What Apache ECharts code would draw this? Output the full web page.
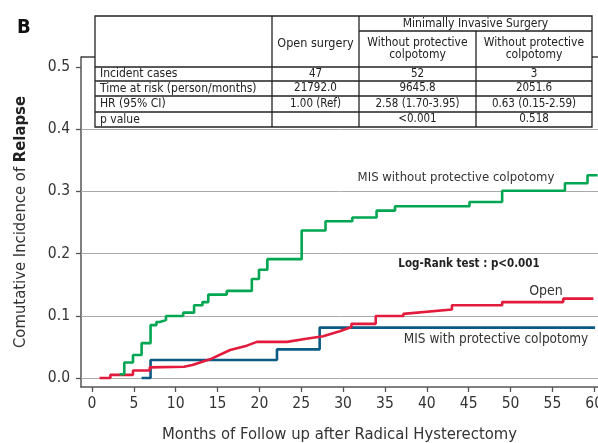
<!DOCTYPE html>
<html><head><meta charset="utf-8">
<script src="https://cdn.jsdelivr.net/npm/echarts@6/dist/echarts.min.js"></script>
<style>html,body{margin:0;padding:0;background:#fff}#c{width:598px;height:443px}</style>
</head><body><div id="c"></div>
<script>
const FONT = "'DejaVu Sans Condensed',Roboto,sans-serif";
const xTicks = [0,5,10,15,20,25,30,35,40,45,50,55,60];
const yTicks = [0,0.1,0.2,0.3,0.4,0.5];
const gridValues = [0,0.1,0.2,0.3,0.4];
// step points: [month, cumulative incidence]
const misWithout = [[3.3,0.006],[3.86,0.025],[4.9,0.037],[5.93,0.056],[7.0,0.085],[7.7,0.090],[8.1,0.093],[8.84,0.0997],[10.9,0.105],[12.2,0.117],[13.2,0.122],[13.9,0.134],[16.1,0.140],[19.1,0.159],[19.95,0.174],[20.95,0.191],[25.05,0.237],[27.9,0.252],[31.1,0.258],[34.0,0.269],[36.2,0.276],[45.1,0.283],[49.0,0.301],[56.5,0.313],[59.2,0.326],[60.4,0.326]];
const misWith = [[5.93,0],[7.0,0.029],[22.1,0.046],[27.2,0.081],[60.1,0.081]];
const openSurgery = [[0.9,0],[2.2,0],[2.2,0.005],[4.9,0.005],[4.9,0.012],[6.9,0.012],[6.9,0.017],[11.0,0.018],[12.0,0.021],[14.1,0.030],[16.5,0.045],[18.5,0.052],[19.7,0.058],[23.3,0.058],[25.6,0.063],[27.6,0.067],[29.6,0.075],[31.0,0.082],[31.0,0.087],[33.9,0.087],[33.9,0.0997],[37.2,0.0997],[37.2,0.103],[43.0,0.110],[43.0,0.117],[49.0,0.117],[49.0,0.122],[56.3,0.122],[56.3,0.1275],[59.9,0.1275]];
const seriesNames = ['MIS without protective colpotomy','Open','MIS with protective colpotomy'];
const testLabel = 'Log-Rank test : p<0.001';
const panelLabel = 'B';
const tableSpanHeader = 'Minimally Invasive Surgery';
const tableColHeaders = ['Open surgery','Without protective\ncolpotomy','Without protective\ncolpotomy'];
const rowLabels = ['Incident cases','Time at risk (person/months)','HR (95% CI)','p value'];
const openVals = ['47','21792.0','1.00 (Ref)',''];
const misWithoutVals = ['52','9645.8','2.58 (1.70-3.95)','<0.001'];
const misWithVals = ['3','2051.6','0.63 (0.15-2.59)','0.518'];

const chart = echarts.init(document.getElementById('c'), null, {renderer:'canvas'});
const TC = '#222';
const tl = (x1,y1,x2,y2,w) => ({type:'line', z:100, shape:{x1,y1,x2,y2}, style:{stroke:TC, lineWidth:w||1.3}});
const tt = (x,y,text,align,size,extra) => ({type:'text', z:101, x, y, style:Object.assign({text, fill:'#222', font:(size||12)+'px '+FONT, align:align||'center', verticalAlign:'middle', lineHeight:12}, extra||{})});

const g = [];
g.push({type:'rect', z:99, shape:{x:95,y:16,width:497,height:111}, style:{fill:'#fff', stroke:TC, lineWidth:1.3}});
g.push(tl(95,67,592,67,1.6));
[81,96,112].forEach(y=>g.push(tl(95,y,592,y)));
g.push(tl(272,16,272,127));
g.push(tl(359,16,359,127));
g.push(tl(476,31,476,127));
g.push(tl(359,31,592,31));
g.push(tl(81,57,95,57,1.3));
g.push(tl(592,57,598,57,1.3));
g.push(tt(475.5,23.5,tableSpanHeader,'center',12));
g.push(tt(315.5,44,tableColHeaders[0],'center',12.5));
g.push(tt(417.5,49,tableColHeaders[1],'center',12));
g.push(tt(534,49,tableColHeaders[2],'center',12));
const rowC = [74,88.5,104,119.5];
rowLabels.forEach((t,i)=>{
  g.push(tt(100,rowC[i],t,'left',12));
  g.push(tt(315.5,rowC[i],openVals[i],'center',11.5));
  g.push(tt(417.5,rowC[i],misWithoutVals[i],'center',11.5));
  g.push(tt(534,rowC[i],misWithVals[i],'center',11.5));
});
g.push({type:'text', x:17, y:28, style:{text:panelLabel, font:'bold 20px '+FONT, fill:'#111', verticalAlign:'middle'}});
g.push({type:'text', x:456, y:178, style:{text:seriesNames[0], font:'13px '+FONT, fill:'#333', align:'center', verticalAlign:'middle'}});
g.push({type:'text', x:469, y:264, style:{text:testLabel, font:'bold 11.5px '+FONT, fill:'#222', align:'center', verticalAlign:'middle'}});
g.push({type:'text', x:546, y:291, style:{text:seriesNames[1], font:'14px '+FONT, fill:'#333', align:'center', verticalAlign:'middle'}});
g.push({type:'text', x:496, y:339, style:{text:seriesNames[2], font:'13.5px '+FONT, fill:'#333', align:'center', verticalAlign:'middle'}});

const axisCol = '#555';
chart.setOption({
  animation:false,
  backgroundColor:'#fff',
  grid:{left:81, right:0, top:57, bottom:56, outerBoundsMode:'none', containLabel:false},
  xAxis:{type:'value', min:-1.31, max:60.45,
    axisLine:{show:true, onZero:false, lineStyle:{color:axisCol, width:1.5}},
    axisTick:{show:true, length:5, customValues:xTicks, lineStyle:{color:axisCol, width:1.3}},
    axisLabel:{customValues:xTicks, color:'#333', fontSize:15.5, fontFamily:FONT, margin:9},
    splitLine:{show:false},
    name:'Months of Follow up after Radical Hysterectomy', nameLocation:'middle', nameGap:39,
    nameTextStyle:{fontSize:16.5, color:'#333', fontFamily:FONT}},
  yAxis:{type:'value', min:-0.0145, max:0.516,
    axisLine:{show:true, onZero:false, lineStyle:{color:axisCol, width:1.5}},
    axisTick:{show:true, length:5, customValues:yTicks, lineStyle:{color:axisCol, width:1.3}},
    axisLabel:{customValues:yTicks, formatter:v=>v.toFixed(1), color:'#333', fontSize:15.5, fontFamily:FONT, margin:11},
    splitLine:{show:false},
    name:'{a|Comutative Incidence of }{b|Relapse}', nameLocation:'middle', nameGap:52, nameRotate:90,
    nameTextStyle:{rich:{a:{fontSize:16.5, color:'#333', fontFamily:FONT}, b:{fontSize:16.5, fontWeight:'bold', color:'#222', fontFamily:FONT}}}},
  graphic:g,
  series:[
    {type:'line', name:'grid', data:[], silent:true, z:1,
      markLine:{silent:true, z:1, symbol:'none', label:{show:false}, lineStyle:{color:'#aaa', width:1, type:'solid'},
        data:gridValues.map(v=>({yAxis:v}))}},
    {type:'line', name:seriesNames[2], data:misWith, step:'end', showSymbol:false, lineStyle:{color:'#0b5a84', width:2.6}, z:3},
    {type:'line', name:seriesNames[1], data:openSurgery, showSymbol:false, lineStyle:{color:'#e21a3c', width:2.6}, z:4},
    {type:'line', name:seriesNames[0], data:misWithout, step:'end', showSymbol:false, lineStyle:{color:'#00a651', width:2.6}, z:5}
  ]
});
</script></body></html>
